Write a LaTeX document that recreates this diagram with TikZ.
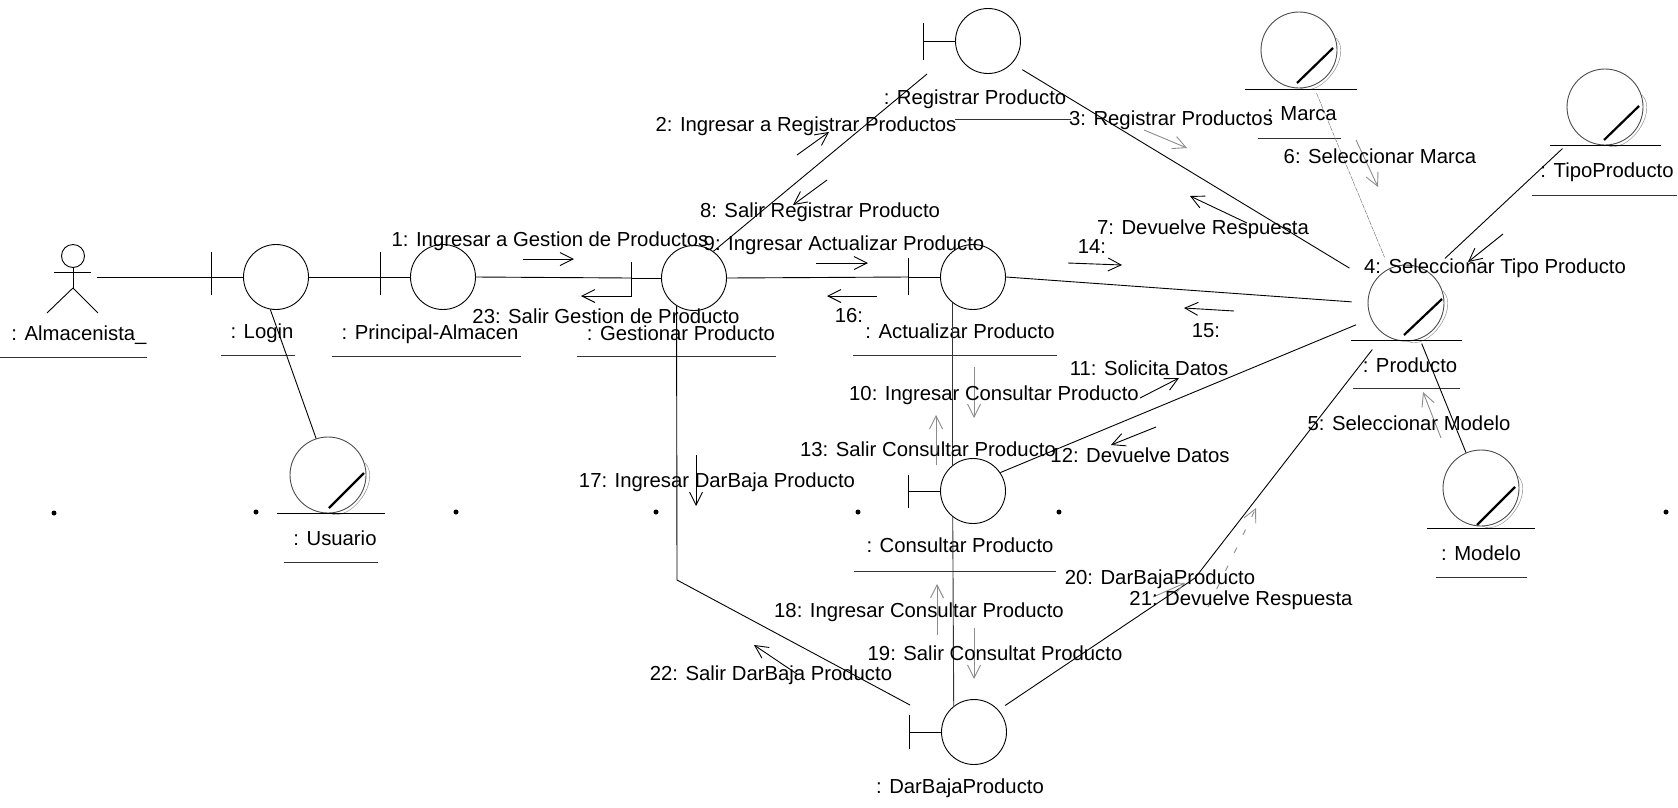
\documentclass[tikz,border=0pt]{standalone}
\usepackage{fontspec}
\setmainfont{Liberation Sans}
\usetikzlibrary{calc,positioning,arrows.meta}
\tikzset{
	boundary/.style={draw,circle,minimum size=65pt,inner sep=0pt},
	entity/.style={draw=black!70,circle,minimum size=76pt,inner sep=0pt},
	lbl/.style={inner sep=0pt,text height=15pt,text depth=4pt,font=\fontsize{20.3}{24}\selectfont},
	mlbl/.style={lbl,yshift=-2pt},
	msg/.style={->,>={Straight Barb[length=13pt,width=13pt]}},
	fmsg/.style={msg,draw=black!45},
	slash/.style={line width=2.2pt},
	rim/.style={draw=black!50,thin,bend right=80}
}
\begin{document}
\begin{tikzpicture}[x=1pt,y=-1pt,line width=0.9pt]
\useasboundingbox (0,0) rectangle (1678,807);

\node[draw,circle,minimum size=23pt,inner sep=0pt] (actor) at (73,256) {};
\node[boundary] (login) at (276,277) {};
\node[boundary] (principal) at (443,277) {};
\node[boundary] (gestionar) at (694,278) {};
\node[boundary] (registrar) at (988,41) {};
\node[boundary] (actualizar) at (973,277) {};
\node[boundary] (consultar) at (973,491) {};
\node[boundary] (darbaja) at (974,732) {};
\node[entity] (usuario) at (328,475) {};
\node[entity] (marca) at (1299,50) {};
\node[entity] (tipo) at (1605,107) {};
\node[entity] (producto) at (1406,303) {};
\node[entity] (modelo) at (1481,488) {};

\node[lbl] (actorl) at (79,335) {: Almacenista\_};
\node[lbl,below=13pt of login,xshift=-14pt] (loginl) {: Login};
\node[lbl,below=14pt of principal,xshift=-13pt] (principall) {: Principal-Almacen};
\node[lbl,below=14pt of gestionar,xshift=-13pt] (gestionarl) {: Gestionar Producto};
\node[lbl,below=15pt of registrar,xshift=-13pt] (registrarl) {: Registrar Producto};
\node[lbl,below=13pt of actualizar,xshift=-13pt] (actualizarl) {: Actualizar Producto};
\node[lbl,below=13pt of consultar,xshift=-13pt] (consultarl) {: Consultar Producto};
\node[lbl,below=13pt of darbaja,xshift=-14pt] (darbajal) {: DarBajaProducto};
\node[lbl,below=17pt of usuario,xshift=7pt] (usuariol) {: Usuario};
\node[lbl,below=17pt of marca,xshift=3pt] (marcal) {: Marca};
\node[lbl,below=17pt of tipo,xshift=2pt] (tipol) {: TipoProducto};
\node[lbl,below=16pt of producto,xshift=4pt] (productol) {: Producto};
\node[lbl,below=19pt of modelo,xshift=0pt] (modelol) {: Modelo};

\draw (actor.south) -- +(0,20) coordinate (hip) +(-19,4) -- +(18,4);
\draw (hip) -- +(-26,25);
\draw (hip) -- +(25,25);
\coordinate (hand) at (97,277);

\draw (login.west) -- +(-32,0) coordinate (loginb) +(-32,-25) -- +(-32,18);
\draw (principal.west) -- +(-30,0) coordinate (principalb) +(-30,-25) -- +(-30,18);
\draw (gestionar.west) -- +(-30,0) coordinate (gestionarb) +(-30,-16) -- +(-30,19);
\draw (registrar.west) -- +(-32,0) coordinate (registrarb) +(-32,-18) -- +(-32,19);
\draw (actualizar.west) -- +(-32,0) coordinate (actualizarb) +(-32,-19) -- +(-32,18);
\draw (consultar.west) -- +(-32,0) +(-32,-16) -- +(-32,17);
\draw (darbaja.west) -- +(-32,0) +(-32,-17) -- +(-32,17);

\draw[slash] ($(usuario)+(1,33)$) -- +(35,-35);
\draw[slash] ($(marca)+(-2,33)$) -- +(36,-35);
\draw[slash] ($(tipo)+(-1,33)$) -- +(35,-34);
\draw[slash] ($(producto)+(-2,32)$) -- +(38,-36);
\draw[slash] ($(modelo)+(-4,37)$) -- +(38,-38);
\draw[rim] ($(usuario)+(1,38)$) to ($(usuario)+(37,-12)$);
\draw[rim] ($(marca)+(1,38)$) to ($(marca)+(37,-12)$);
\draw[rim] ($(tipo)+(1,38)$) to ($(tipo)+(37,-12)$);
\draw[rim] ($(producto)+(1,38)$) to ($(producto)+(37,-12)$);
\draw[rim] ($(modelo)+(1,38)$) to ($(modelo)+(37,-12)$);
\draw (usuario.south) ++(-51,0) -- +(108,0);
\draw (marca.south) ++(-54,1) -- +(112,0);
\draw (tipo.south) ++(-55,0) -- +(111,0);
\draw (producto.south) ++(-55,-1) -- +(111,0);
\draw (modelo.south) ++(-54,2) -- +(108,0);

\draw[black!80] ( $ (actorl) +(-79,22) $ ) -- +(147,0);
\draw[black!80] ( $ (loginl) +(-41,23) $ ) -- +(74,0);
\draw[black!80] ( $ (principall) +(-98,23) $ ) -- +(189,0);
\draw[black!80] ( $ (gestionarl) +(-104,22) $ ) -- +(199,0);
\draw[black!80] ( $ (registrarl) +(-20,21) $ ) -- +(116,0);
\draw[black!80] ( $ (actualizarl) +(-107,23) $ ) -- +(204,0);
\draw[black!80] ( $ (consultarl) +(-106,25) $ ) -- +(202,0);
\draw[black!80] ( $ (usuariol) +(-51,22) $ ) -- +(94,0);
\draw[black!80] ( $ (marcal) +(-44,23) $ ) -- +(83,0);
\draw[black!80] ( $ (tipol) +(-75,23) $ ) -- +(145,0);
\draw[black!80] ( $ (productol) +(-57,21) $ ) -- +(107,0);
\draw[black!80] ( $ (modelol) +(-45,22) $ ) -- +(91,0);

\draw (hand) -- (loginb);
\draw (login.east) -- (principalb);
\draw (principal.east) -- (gestionarb);
\draw (gestionar.east) -- (actualizarb);
\draw[shorten >=16pt] (actualizar.east) -- (producto.west);
\draw (login.260) -- (usuario.108);
\coordinate (regfoot) at (927,74);
\draw (gestionar.54) -- (regfoot);
\draw[shorten <=12pt,shorten >=28pt] (registrar.-43) -- (producto.148);
\draw[black!80] (actualizar.232) -- (consultar.128);
\draw[black!80] (consultar.232) -- (darbaja.128);
\draw[shorten >=16pt] (consultar.34) -- (producto.204);
\coordinate (darbend) at (1195,578);
\draw[shorten <=8pt,shorten >=19pt] (darbaja.42) -- (darbend) -- (producto.235);
\coordinate (gesbend) at (677,580);
\coordinate (gesend) at (910,705);
\draw (gestionar.238) -- (gesbend) -- (gesend);
\draw[shorten <=21pt,shorten >=21pt] (tipo.225) -- (producto.52);
\draw[black!60,dash pattern=on 5pt off 1pt,thin,shorten <=8pt,shorten >=12pt] (marca.292) -- (producto.116);
\draw[shorten <=5pt] (producto.291) -- (modelo.113);

\coordinate (a1s) at (523,259); \coordinate (a1e) at (574,259);
\coordinate (a2s) at (797,155); \coordinate (a2e) at (829,132);
\coordinate (a3s) at (1144,130); \coordinate (a3e) at (1187,148);
\coordinate (a4s) at (1503,234); \coordinate (a4e) at (1468,262);
\coordinate (a5s) at (1441,438); \coordinate (a5e) at (1423,392);
\coordinate (a6s) at (1356,140); \coordinate (a6e) at (1378,187);
\coordinate (a7s) at (1247,223); \coordinate (a7e) at (1190,196);
\coordinate (a8s) at (827,180); \coordinate (a8e) at (793,205);
\coordinate (a9s) at (816,263); \coordinate (a9e) at (868,263);
\coordinate (a10s) at (974,367); \coordinate (a10e) at (974,418);
\coordinate (a11s) at (1140,398); \coordinate (a11e) at (1179,378);
\coordinate (a12s) at (1156,427); \coordinate (a12e) at (1111,445);
\coordinate (a13s) at (936,465); \coordinate (a13e) at (936,415);
\coordinate (a14s) at (1068,263); \coordinate (a14e) at (1122,265);
\coordinate (a15s) at (1234,311); \coordinate (a15e) at (1184,308);
\coordinate (a16s) at (877,296); \coordinate (a16e) at (827,296);
\coordinate (a17s) at (696,455); \coordinate (a17e) at (696,506);
\coordinate (a18s) at (937,635); \coordinate (a18e) at (937,584);
\coordinate (a19s) at (974,628); \coordinate (a19e) at (974,679);
\coordinate (a20s) at (1208,607); \coordinate (a20e) at (1256,508);
\coordinate (a21s) at (1153,597); \coordinate (a21e) at (1185,583);
\coordinate (a22s) at (797,674); \coordinate (a22e) at (754,645);
\coordinate (a23s) at (631,296); \coordinate (a23e) at (581,296);

\draw[msg] (a1s) -- (a1e);
\draw[msg] (a2s) -- (a2e);
\draw[fmsg] (a3s) -- (a3e);
\draw[msg] (a4s) -- (a4e);
\draw[fmsg] (a5s) -- (a5e);
\draw[fmsg] (a6s) -- (a6e);
\draw[msg] (a7s) -- (a7e);
\draw[msg] (a8s) -- (a8e);
\draw[msg] (a9s) -- (a9e);
\draw[fmsg] (a10s) -- (a10e);
\draw[msg] (a11s) -- (a11e);
\draw[msg] (a12s) -- (a12e);
\draw[fmsg] (a13s) -- (a13e);
\draw[msg] (a14s) -- (a14e);
\draw[msg] (a15s) -- (a15e);
\draw[msg] (a16s) -- (a16e);
\draw[msg] (a17s) -- (a17e);
\draw[fmsg] (a18s) -- (a18e);
\draw[fmsg] (a19s) -- (a19e);
\draw[fmsg,dash pattern=on 6pt off 14pt] (a20s) -- (a20e);
\draw[fmsg] (a21s) -- (a21e);
\draw[msg] (a22s) -- (a22e);
\draw[msg] (a23s) -- (a23e);

\node[mlbl] (m1) at (550,239) {1: Ingresar a Gestion de Productos};
\node[mlbl] (m2) at (806,124) {2: Ingresar a Registrar Productos};
\node[mlbl] (m3) at (1171,118) {3: Registrar Productos};
\node[mlbl] (m4) at (1495,266) {4: Seleccionar Tipo Producto};
\node[mlbl] (m5) at (1409,423) {5: Seleccionar Modelo};
\node[mlbl] (m6) at (1380,156) {6: Seleccionar Marca};
\node[mlbl] (m7) at (1203,227) {7: Devuelve Respuesta};
\node[mlbl] (m8) at (820,210) {8: Salir Registrar Producto};
\node[mlbl] (m9) at (844,243) {9: Ingresar Actualizar Producto};
\node[mlbl] (m10) at (994,393) {10: Ingresar Consultar Producto};
\node[mlbl] (m11) at (1149,368) {11: Solicita Datos};
\node[mlbl] (m12) at (1140,455) {12: Devuelve Datos};
\node[mlbl] (m13) at (928,449) {13: Salir Consultar Producto};
\node[mlbl] (m14) at (1092,246) {14:};
\node[mlbl] (m15) at (1206,330) {15:};
\node[mlbl] (m16) at (849,315) {16:};
\node[mlbl] (m17) at (717,480) {17: Ingresar DarBaja Producto};
\node[mlbl] (m18) at (919,610) {18: Ingresar Consultar Producto};
\node[mlbl] (m19) at (995,653) {19: Salir Consultat Producto};
\node[mlbl] (m20) at (1160,577) {20: DarBajaProducto};
\node[mlbl] (m21) at (1241,598) {21: Devuelve Respuesta};
\node[mlbl] (m22) at (771,673) {22: Salir DarBaja Producto};
\node[mlbl] (m23) at (606,316) {23: Salir Gestion de Producto};

\fill (54,513) circle (2.5) (256,512) circle (2.5) (456,512) circle (2.5) (656,512) circle (2.5) (858,512) circle (2.5) (1059,512) circle (2.5) (1666,512) circle (2.5);

\end{tikzpicture}
\end{document}
